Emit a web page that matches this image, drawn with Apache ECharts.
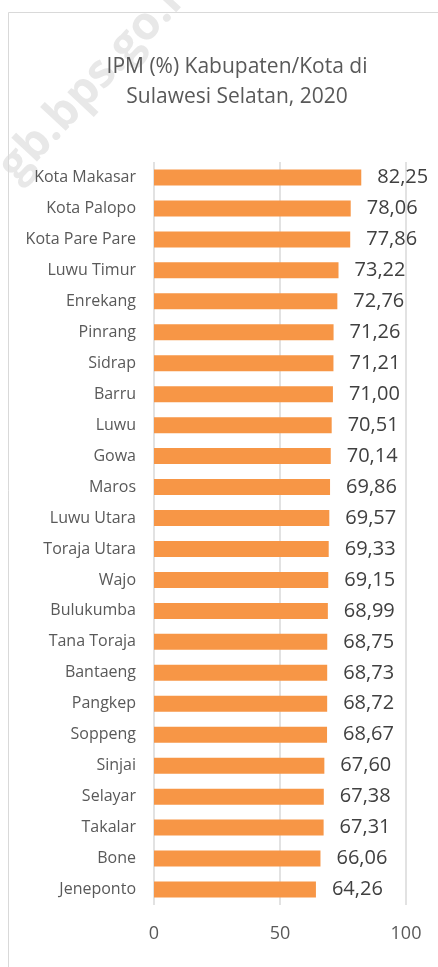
<!DOCTYPE html>
<html>
<head>
<meta charset="utf-8">
<script src="https://cdn.jsdelivr.net/npm/echarts@6/dist/echarts.min.js"></script>
<style>
  html, body { margin: 0; padding: 0; background: #fff; }
  #chart { width: 438px; height: 967px; }
</style>
</head>
<body>
<div id="chart"></div>
<script>
// IPM per kabupaten/kota, urut dari atas ke bawah
var kabKota = ['Kota Makasar', 'Kota Palopo', 'Kota Pare Pare', 'Luwu Timur', 'Enrekang',
    'Pinrang', 'Sidrap', 'Barru', 'Luwu', 'Gowa', 'Maros', 'Luwu Utara', 'Toraja Utara',
    'Wajo', 'Bulukumba', 'Tana Toraja', 'Bantaeng', 'Pangkep', 'Soppeng', 'Sinjai',
    'Selayar', 'Takalar', 'Bone', 'Jeneponto'];
var ipm = [82.25, 78.06, 77.86, 73.22, 72.76, 71.26, 71.21, 71.00, 70.51, 70.14, 69.86,
    69.57, 69.33, 69.15, 68.99, 68.75, 68.73, 68.72, 68.67, 67.60, 67.38, 67.31, 66.06, 64.26];
var xTicks = [0, 50, 100];

(function() {
    var myChart = echarts.init(document.getElementById('chart'));
    var font = '"Open Sans", sans-serif';

    var option = {
        animation: false,
        backgroundColor: '#fff',
        title: {
            text: 'IPM (%) Kabupaten/Kota di\nSulawesi Selatan, 2020',
            left: 232,
            top: 47,
            textAlign: 'center',
            textStyle: {
                fontFamily: font,
                fontSize: 21,
                fontWeight: 'normal',
                color: '#595959',
                lineHeight: 30
            }
        },
        graphic: [
            {
                type: 'text',
                x: 24,
                y: 190,
                rotation: 0.82,
                z: -10,
                style: {
                    text: 'gb.bps.go.id',
                    font: 'bold 46px "Open Sans", sans-serif',
                    fill: '#e8e8e8',
                    textVerticalAlign: 'bottom'
                }
            },
            {
                type: 'rect',
                z: -5,
                shape: { x: 8.5, y: 12.5, width: 600, height: 1200 },
                style: { fill: 'none', stroke: '#d9d9d9', lineWidth: 1 }
            }
        ],
        grid: {
            left: 154,
            right: 32,
            top: 162,
            bottom: 62
        },
        xAxis: {
            type: 'value',
            min: xTicks[0],
            max: xTicks[xTicks.length - 1],
            interval: 50,
            axisLine: { show: false },
            axisTick: { show: false },
            axisLabel: {
                margin: 20,
                fontFamily: font,
                fontSize: 18,
                color: '#595959'
            },
            splitLine: { lineStyle: { color: '#d9d9d9', width: 1.5 } }
        },
        yAxis: {
            type: 'category',
            data: kabKota,
            inverse: true,
            axisLine: { show: false },
            axisTick: { show: false },
            axisLabel: {
                margin: 18,
                fontFamily: font,
                fontSize: 16,
                color: '#595959'
            }
        },
        series: [{
            type: 'bar',
            data: ipm,
            barWidth: 16,
            itemStyle: { color: '#f79646' },
            label: {
                show: true,
                position: 'right',
                distance: 16,
                fontFamily: font,
                fontSize: 20,
                color: '#404040',
                formatter: function(p) {
                    return p.value.toFixed(2).replace('.', ',');
                }
            },
            z: 3
        }]
    };

    myChart.setOption(option);
    window.addEventListener('resize', function() {
        myChart.resize();
    });
})();
</script>
</body>
</html>
